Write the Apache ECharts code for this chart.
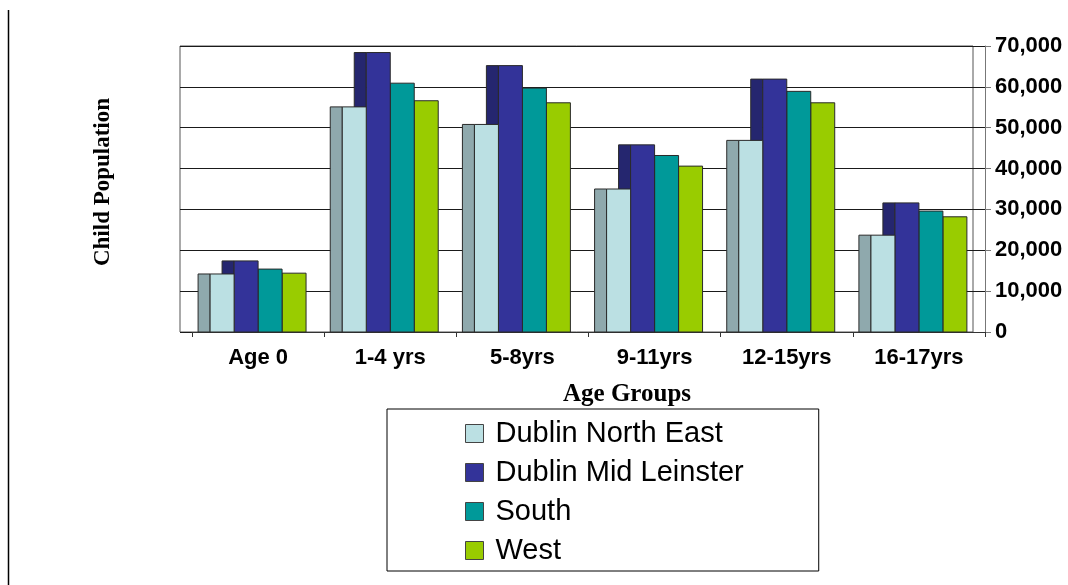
<!DOCTYPE html>
<html>
<head>
<meta charset="utf-8">
<script src="https://cdn.jsdelivr.net/npm/echarts@6/dist/echarts.min.js"></script>
<style>
  html, body { margin:0; padding:0; background:#fff; }
  #chart { width:1068px; height:585px; }
</style>
</head>
<body>
<div id="chart"></div>
<script>
var categories = ['Age 0', '1-4 yrs', '5-8yrs', '9-11yrs', '12-15yrs', '16-17yrs'];
var seriesNames = ['Dublin North East', 'Dublin Mid Leinster', 'South', 'West'];
var dublinNorthEast   = [14200, 55100, 50800, 35000, 46900, 23700];
var dublinMidLeinster = [17400, 68400, 65200, 45800, 61900, 31600];
var south             = [15400, 60900, 59700, 43200, 58900, 29600];
var west              = [14400, 56600, 56100, 40600, 56100, 28200];
var frontColors = ['#bbe0e3', '#333399', '#009999', '#99cc00'];
var sideColors  = ['#8fa9ad', '#25266f', '#007373', '#739900'];

var allValues = [dublinNorthEast, dublinMidLeinster, south, west];

// front face + left side face, like the old excel 3d columns
function barRenderer(k){
	return function(params, api){
		var base = api.coord([api.value(0), 0]);
		var top = api.coord([api.value(0), api.value(1)]);
		var band = api.size([1, 0])[0];
		var fw = band * 0.1815, sw = band * 0.091;
		var x0 = base[0] - 2 * fw + k * fw;
		var h = base[1] - top[1];
		return {
			type : 'group',
			children : [
				{ type:'rect', shape:{ x:x0 - sw, y:top[1], width:sw, height:h },
				  style:{ fill:sideColors[k], stroke:'#2a2a2a', lineWidth:1 } },
				{ type:'rect', shape:{ x:x0, y:top[1], width:fw, height:h },
				  style:{ fill:frontColors[k], stroke:'#2a2a2a', lineWidth:1 } }
			]
		};
	};
}

var series = [];
for (var k = 0; k < seriesNames.length; k++) {
	series.push({
		name : seriesNames[k],
		type : 'custom',
		xAxisIndex : 1,
		yAxisIndex : 1,
		z : 10 - k,
		itemStyle : { color:frontColors[k] },
		renderItem : barRenderer(k),
		encode : { x:0, y:1 },
		data : allValues[k].map(function(v, i){ return [i, v]; })
	});
}

var myChart = echarts.init(document.getElementById('chart'));
var option = {
	animation : false,
	grid : [
		{ left:180, right:95, top:46, bottom:253, show:true, borderColor:'#555', borderWidth:1 },
		{ left:192, right:83, top:46, bottom:253 }
	],
	xAxis : [
		{ gridIndex:0, type:'value', show:false, min:0, max:1 },
		{
			gridIndex : 1,
			type : 'category',
			data : categories,
			axisLine : { lineStyle:{ color:'#333', width:1 } },
			axisTick : { show:true, length:5, lineStyle:{ color:'#333' } },
			axisLabel : { color:'#000', fontFamily:'Liberation Sans, Arial', fontWeight:'bold', fontSize:22, margin:15 },
			splitLine : { show:false }
		}
	],
	yAxis : [
		{
			gridIndex : 0,
			type : 'value',
			min : 0, max : 70000, interval : 10000,
			axisLine : { show:false },
			axisTick : { show:false },
			axisLabel : { show:false },
			splitLine : { show:true, lineStyle:{ color:'#1a1a1a', width:1 } }
		},
		{
			gridIndex : 1,
			type : 'value',
			position : 'right',
			min : 0, max : 70000, interval : 10000,
			axisLine : { show:true, lineStyle:{ color:'#777', width:1 } },
			axisTick : { show:true, length:6, lineStyle:{ color:'#777' } },
			axisLabel : {
				color:'#000', fontFamily:'Liberation Sans, Arial', fontWeight:'bold', fontSize:22, margin:10,
				formatter : function(v){ return v.toLocaleString('en-US'); }
			},
			splitLine : { show:true, lineStyle:{ color:'#1a1a1a', width:1 } }
		}
	],
	legend : {
		data : seriesNames,
		orient : 'vertical',
		left : 387,
		top : 409,
		icon : 'rect',
		itemWidth : 18,
		itemHeight : 18,
		itemGap : 10,
		padding : [10, 75, 6, 78],
		borderColor : '#000',
		borderWidth : 1,
		itemStyle : { borderColor:'#444', borderWidth:1 },
		textStyle : { color:'#000', fontFamily:'Liberation Sans, Arial', fontSize:29, lineHeight:29, padding:[0,0,0,7] }
	},
	graphic : [
		{ type:'line', shape:{ x1:8.5, y1:10, x2:8.5, y2:585 }, style:{ stroke:'#000', lineWidth:1.5 } },
		{ type:'text', x:103, y:182, rotation:Math.PI / 2,
		  style:{ text:'Child Population', fill:'#000', font:'bold 23px "Liberation Serif", "Times New Roman"', textAlign:'center', textVerticalAlign:'middle' } },
		{ type:'text', x:627, y:395,
		  style:{ text:'Age Groups', fill:'#000', font:'bold 25px "Liberation Serif", "Times New Roman"', textAlign:'center', textVerticalAlign:'middle' } }
	],
	series : series
};
myChart.setOption(option);
</script>
</body>
</html>
